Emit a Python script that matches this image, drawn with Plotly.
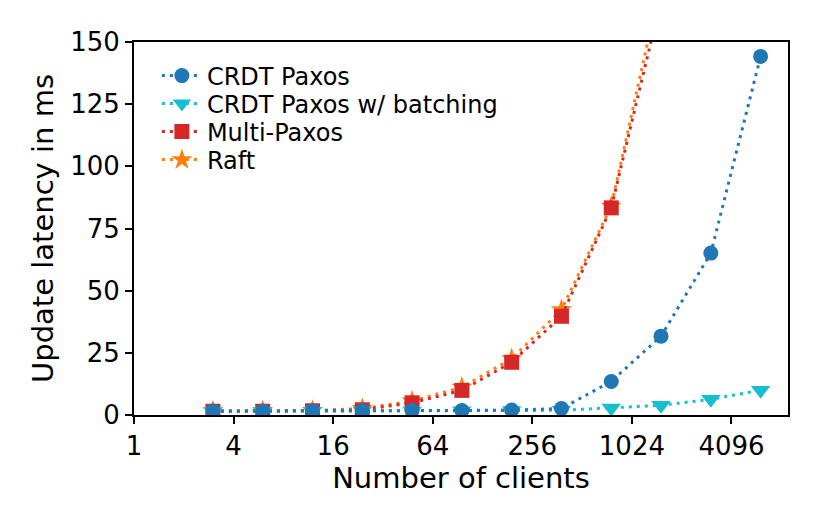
import math
import plotly.graph_objects as go

clients = [3, 6, 12, 24, 48, 96, 192, 384, 768, 1536, 3072, 6144]
crdt_paxos = [1.6, 1.6, 1.7, 1.7, 1.8, 1.8, 2.0, 2.6, 13.5, 31.7, 65.1, 144.2]
crdt_batching = [1.5, 1.5, 1.5, 1.6, 1.6, 1.7, 1.8, 1.9, 2.8, 3.9, 6.3, 10.0]
multi_paxos = [1.5, 1.5, 1.7, 2.1, 4.9, 9.9, 21.2, 39.7, 83.3, 167.0]
raft = [1.6, 1.6, 1.8, 2.6, 5.6, 11.2, 22.6, 42.3, 84.0, 174.0]

xticks = [1, 4, 16, 64, 256, 1024, 4096]
xticklabels = ["1", "4", "16", "64", "256", "1024", "4096"]
yticks = [0, 25, 50, 75, 100, 125, 150]

BLUE = "#1f77b4"
CYAN = "#17becf"
RED = "#d62728"
ORANGE = "#ff7f0e"

fig = go.Figure()

def add(name, x, y, color, symbol, size, legend):
    fig.add_trace(go.Scatter(
        x=x, y=y, name=name, mode="lines+markers", legend=legend,
        line=dict(color=color, width=3, dash="3px,5px"),
        marker=dict(color=color, symbol=symbol, size=size, line=dict(width=0)),
    ))

add("Raft", clients[:len(raft)], raft, ORANGE, "star", 16, "legend4")
add("Multi-Paxos", clients[:len(multi_paxos)], multi_paxos, RED, "square", 15, "legend3")
add("CRDT Paxos w/ batching", clients, crdt_batching, CYAN, "triangle-down", 17, "legend2")
add("CRDT Paxos", clients, crdt_paxos, BLUE, "circle", 15, "legend")

def leg(ypx):
    return dict(
        x=0.035, y=(415 - ypx) / 373, xanchor="left", yanchor="middle",
        bgcolor="rgba(0,0,0,0)", font=dict(size=24), itemwidth=40,
    )

fig.update_layout(
    width=825, height=525,
    margin=dict(l=134, r=37, t=42, b=110),
    paper_bgcolor="white", plot_bgcolor="white",
    font=dict(family="DejaVu Sans", size=26, color="black"),
    showlegend=True,
    legend=leg(76), legend2=leg(104), legend3=leg(132), legend4=leg(160),
    xaxis=dict(
        type="log", range=[0, 13.135 * math.log10(2)],
        tickmode="array", tickvals=xticks, ticktext=xticklabels,
        showgrid=False, zeroline=False,
        showline=True, linecolor="black", linewidth=2, mirror=True,
        ticks="outside", ticklen=7, tickwidth=1.5, tickcolor="black",
        tickfont=dict(size=26),
        title=dict(text="Number of clients", font=dict(size=29), standoff=4),
    ),
    yaxis=dict(
        range=[0, 150], tickmode="array", tickvals=yticks,
        showgrid=False, zeroline=False,
        showline=True, linecolor="black", linewidth=2, mirror=True,
        ticks="outside", ticklen=7, tickwidth=1.5, tickcolor="black",
        tickfont=dict(size=26),
        title=dict(text="Update latency in ms", font=dict(size=29), standoff=8),
    ),
)

fig.write_html("out.html")
